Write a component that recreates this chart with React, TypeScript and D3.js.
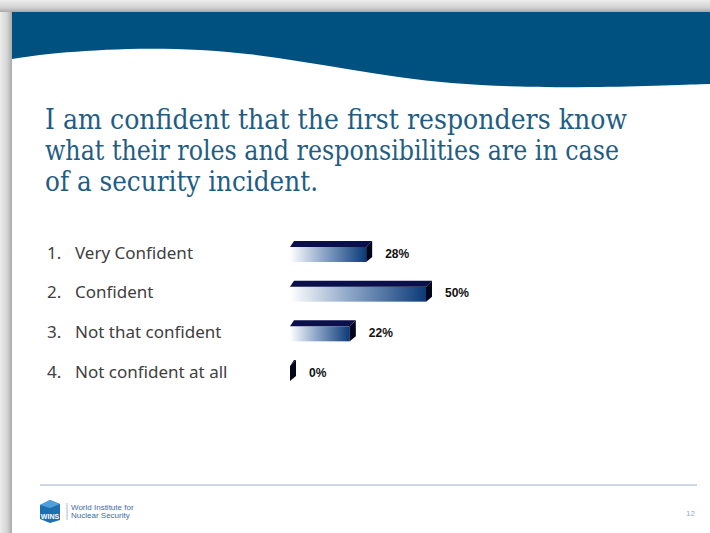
import React from "react";
import * as d3 from "d3";

const titleLines = [
  "I am confident that the first responders know",
  "what their roles and responsibilities are in case",
  "of a security incident.",
];
const titleWidths = [582, 574, 273];
const categories = ["Very Confident", "Confident", "Not that confident", "Not confident at all"];
const values = [28, 50, 22, 0];
const valueLabels = ["28%", "50%", "22%", "0%"];
const footerLines = ["World Institute for", "Nuclear Security"];
const pageNumber = "12";

const W = 710;
const H = 533;

export default function App() {
  const x = d3.scaleLinear().domain([0, 50]).range([0, 136]);
  const y = d3.scalePoint<string>().domain(categories).range([254.5, 373.5]);
  const x0 = 290;
  const barH = 15;
  const dx = 6;
  const dy = 6;

  const pts: [number, number][] = [
    [710, 84], [650, 86], [560, 88], [450, 85], [350, 70], [250, 52], [150, 47], [60, 52], [12, 59],
  ];
  const waveRev = d3.line().curve(d3.curveBasis)(pts) || "";
  const band = `M12,12 L710,12 ` + waveRev.replace(/^M/, "L") + ` Z`;

  return (
    <svg width={W} height={H} style={{ position: "absolute", left: 0, top: 0, display: "block" }}
      fontFamily="Noto Sans">
      <defs>
        <linearGradient id="shL" x1="0" x2="1" y1="0" y2="0">
          <stop offset="0" stopColor="#ececec" />
          <stop offset="0.6" stopColor="#d4d4d4" />
          <stop offset="1" stopColor="#a9a9a9" />
        </linearGradient>
        <linearGradient id="shT" x1="0" x2="0" y1="0" y2="1">
          <stop offset="0" stopColor="#ececec" />
          <stop offset="0.6" stopColor="#d4d4d4" />
          <stop offset="1" stopColor="#a9a9a9" />
        </linearGradient>
        <linearGradient id="front" x1="0" x2="1" y1="0" y2="0">
          <stop offset="0" stopColor="#ffffff" />
          <stop offset="0.45" stopColor="#8aa4c6" />
          <stop offset="1" stopColor="#0b3a78" />
        </linearGradient>
      </defs>
      <rect x={0} y={0} width={W} height={H} fill="#e4e4e4" />
      <rect x={0} y={0} width={12} height={H} fill="url(#shL)" />
      <rect x={0} y={0} width={W} height={12} fill="url(#shT)" />
      <rect x={12} y={12} width={W - 12} height={H - 12} fill="#ffffff" />
      <path d={band} fill="#005080" />

      {titleLines.map((t, i) => (
        <text key={i} x={45} y={129 + i * 31} fontFamily="DejaVu Serif" fontSize={27}
          textLength={titleWidths[i]} lengthAdjust="spacingAndGlyphs"
          fill="#1f5d85">{t}</text>
      ))}

      {categories.map((c, i) => {
        const cy = y(c) as number;
        const w = x(values[i]);
        const top = cy - barH / 2;
        return (
          <g key={c}>
            <text x={47} y={cy + 4} fontSize={17} fill="#404040" fontFamily="Noto Sans">{`${i + 1}.`}</text>
            <text x={75} y={cy + 4} fontSize={17} fill="#404040" fontFamily="Noto Sans">{c}</text>
            {w > 0 && <rect x={x0} y={top} width={w} height={barH} fill="url(#front)" />}
            <polygon
              points={`${x0},${top} ${x0 + w},${top} ${x0 + w + dx},${top - dy} ${x0 + dx - 2},${top - dy}`}
              fill="#0b0f4a" />
            <polygon
              points={`${x0 + w},${top} ${x0 + w + dx},${top - dy} ${x0 + w + dx},${top - dy + barH + 1} ${x0 + w},${top + barH}`}
              fill="#03051c" />
            <text x={x0 + w + dx + 13} y={cy + 3} fontSize={12} fontWeight="bold"
              fontFamily="Liberation Sans" fill="#111">{valueLabels[i]}</text>
          </g>
        );
      })}

      <line x1={40} x2={697} y1={485} y2={485} stroke="#cfd7e4" strokeWidth={2} />
      <g>
        <polygon points="40,505 50,500 60,504 60,520 50,523 40,519" fill="#1e6fb0" />
        <polygon points="40,505 50,500 60,504 50,508" fill="#4da0dc" />
        <text x={50} y={519} fontSize={7} fontWeight="bold" fill="#fff" textAnchor="middle"
          fontFamily="Liberation Sans">WINS</text>
        <line x1={67} x2={67} y1={503} y2={520} stroke="#a9bbd3" strokeWidth={1} />
        {footerLines.map((t, i) => (
          <text key={t} x={71} y={510 + i * 8} fontSize={8} fill="#3f6aa3" fontFamily="Liberation Sans">{t}</text>
        ))}
      </g>
      <text x={686} y={516} fontSize={8} fill="#9aa8c0" fontFamily="Liberation Sans">{pageNumber}</text>
    </svg>
  );
}
